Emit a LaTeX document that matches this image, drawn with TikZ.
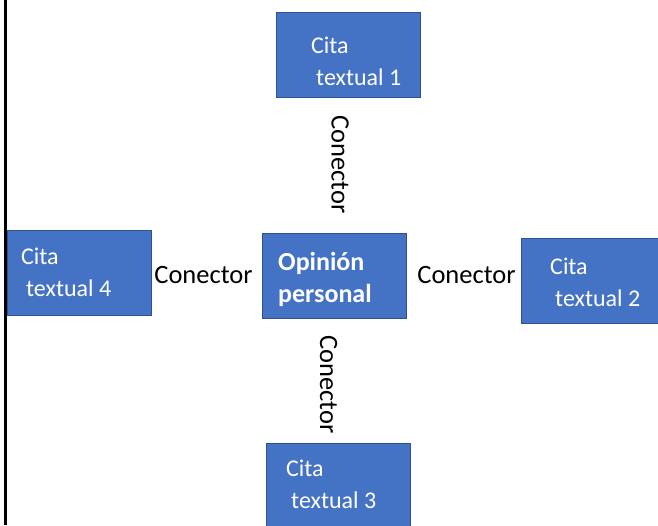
\documentclass[tikz,border=0pt]{standalone}
\usepackage{fontspec}
\setmainfont{Carlito}
\usetikzlibrary{positioning}
\definecolor{boxfill}{HTML}{4472C4}
\definecolor{boxline}{HTML}{2F528F}
\tikzset{
  citabox/.style={draw=boxline, fill=boxfill, line width=1pt,
    minimum width=144pt, minimum height=85pt, anchor=north west, inner sep=0pt},
  citatext/.style={text=white, align=left, anchor=base west, inner sep=0pt,
    font=\fontsize{24}{32}\selectfont},
  conlabel/.style={inner sep=0pt, font=\fontsize{26.5}{30}\selectfont}
}
\begin{document}
\begin{tikzpicture}[x=1pt,y=-1pt]
  \useasboundingbox (0,0) rectangle (658,525);
  \fill[white] (0,0) rectangle (658,525);
  \draw[line width=3pt] (5,0) -- (5,525);
  % cajas
  \node[citabox] (cita1) at (276,12) {};
  \node[citabox] (cita4) at (7,230) {};
  \node[citabox] (opinion) at (262,233) {};
  \node[citabox] (cita2) at (521,238) {};
  \node[citabox] (cita3) at (266,443) {};
  % textos (base = ultima linea)
  \node[citatext] (texto1) at ([shift={(35,73)}]cita1.north west) {Cita\\\hspace*{5pt}textual 1};
  \node[citatext] (texto4) at ([shift={(14,66)}]cita4.north west) {Cita\\\hspace*{5pt}textual 4};
  \node[citatext, font=\fontsize{26}{32}\selectfont\bfseries] (textoop) at ([shift={(16,69)}]opinion.north west) {Opinión\\personal};
  \node[citatext] (texto2) at ([shift={(29,68.5)}]cita2.north west) {Cita\\\hspace*{5pt}textual 2};
  \node[citatext] (texto3) at ([shift={(20,65)}]cita3.north west) {Cita\\\hspace*{5pt}textual 3};
  % conectores
  \node[conlabel, rotate=-90] (con1) at (340,164.5) {Conector};
  \node[conlabel] (con2) at (466.5,275) {Conector};
  \node[conlabel, rotate=-90] (con3) at (328.5,384.5) {Conector};
  \node[conlabel] (con4) at (203.5,275) {Conector};
\end{tikzpicture}
\end{document}
